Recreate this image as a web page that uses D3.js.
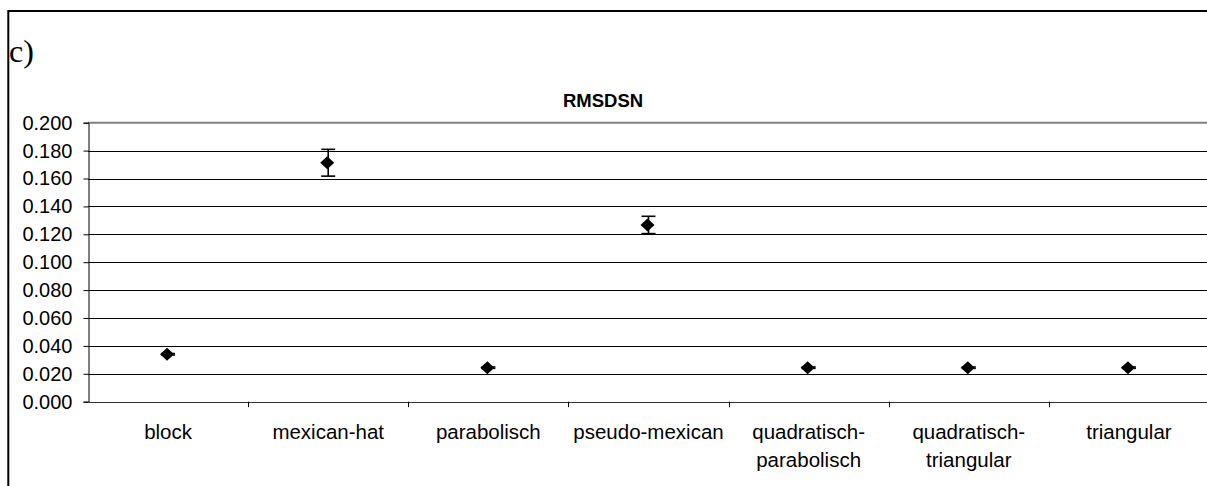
<!DOCTYPE html>
<html>
<head>
<meta charset="utf-8">
<script src="https://cdn.jsdelivr.net/npm/d3@7"></script>
<style>
  html, body { margin: 0; padding: 0; background: #fff; }
  svg { display: block; }
</style>
</head>
<body>
<svg id="chart" width="1207" height="486"></svg>
<script>
// RMSDSN per kernel type, mean with error bars
const categories = ["block", "mexican-hat", "parabolisch", "pseudo-mexican",
                    "quadratisch-parabolisch", "quadratisch-triangular", "triangular"];
const categoryLines = [["block"], ["mexican-hat"], ["parabolisch"], ["pseudo-mexican"],
                       ["quadratisch-", "parabolisch"], ["quadratisch-", "triangular"], ["triangular"]];
const rmsdsn = [0.034, 0.1713, 0.0244, 0.1267, 0.0244, 0.0244, 0.0244];
const rmsdsnErr = [0.0005, 0.0096, 0.0005, 0.0062, 0.0005, 0.0005, 0.0005];
const yTicks = [0, 0.02, 0.04, 0.06, 0.08, 0.1, 0.12, 0.14, 0.16, 0.18, 0.2];

const svg = d3.select("#chart");
const W = 1207, H = 486;
const plot = { left: 88, right: 1209, top: 122.7, bottom: 401.7 };

// outer frame (left and top edges)
svg.append("path")
  .attr("d", `M8.3,${H} V11 H${W}`)
  .attr("fill", "none").attr("stroke", "#000").attr("stroke-width", 2);

// panel letter
svg.append("text")
  .attr("x", 9).attr("y", 62)
  .attr("font-family", "'Liberation Serif', 'DejaVu Serif', serif")
  .attr("font-size", 32)
  .text("c)");

// chart title
svg.append("text")
  .attr("x", 603).attr("y", 106.5)
  .attr("text-anchor", "middle")
  .attr("font-family", "'Liberation Sans', Arial, sans-serif")
  .attr("font-weight", "bold")
  .attr("font-size", 18.5)
  .text("RMSDSN");

const x = d3.scaleBand().domain(categories).range([plot.left, plot.right]).padding(0);
const y = d3.scaleLinear().domain([0, 0.2]).range([plot.bottom, plot.top]);

// horizontal gridlines
svg.append("g").selectAll("line")
  .data(yTicks.slice(1, -1))
  .join("line")
  .attr("x1", plot.left).attr("x2", W)
  .attr("y1", d => Math.round(y(d)) + 0.5).attr("y2", d => Math.round(y(d)) + 0.5)
  .attr("stroke", "#000").attr("stroke-width", 1);

// plot area top edge
svg.append("line")
  .attr("x1", plot.left).attr("x2", W)
  .attr("y1", y(0.2)).attr("y2", y(0.2))
  .attr("stroke", "#808080").attr("stroke-width", 2);

// y axis
const yAxis = d3.axisLeft(y).tickValues(yTicks).tickFormat(d3.format(".3f"))
  .tickSize(5).tickPadding(11);
const gy = svg.append("g").attr("transform", `translate(${plot.left + 0.5},0)`).call(yAxis);
gy.select(".domain").attr("stroke", "#000");
gy.selectAll(".tick line").attr("stroke", "#000");
gy.selectAll(".tick text")
  .attr("font-family", "'Liberation Sans', Arial, sans-serif")
  .attr("font-size", 20).attr("fill", "#000");

// x axis line and category boundary ticks
svg.append("line")
  .attr("x1", plot.left).attr("x2", W)
  .attr("y1", Math.round(y(0)) + 0.5).attr("y2", Math.round(y(0)) + 0.5)
  .attr("stroke", "#333").attr("stroke-width", 1);
svg.append("g").selectAll("line")
  .data(categories.slice(1))
  .join("line")
  .attr("x1", d => Math.round(x(d)) + 0.5).attr("x2", d => Math.round(x(d)) + 0.5)
  .attr("y1", y(0)).attr("y2", y(0) + 5.5)
  .attr("stroke", "#000");

// category labels
const labels = svg.append("g")
  .attr("font-family", "'Liberation Sans', Arial, sans-serif")
  .attr("font-size", 20.5).attr("text-anchor", "middle");
categories.forEach((c, i) => {
  const t = labels.append("text").attr("x", x(c) + x.bandwidth() / 2).attr("y", 438.5);
  categoryLines[i].forEach((ln, j) => {
    t.append("tspan").attr("x", x(c) + x.bandwidth() / 2).attr("dy", j === 0 ? 0 : 28).text(ln);
  });
});

// error bars
const cx = c => x(c) + x.bandwidth() / 2;
const eb = svg.append("g").attr("stroke", "#000").attr("stroke-width", 1.6);
categories.forEach((c, i) => {
  const top = y(rmsdsn[i] + rmsdsnErr[i]), bot = y(rmsdsn[i] - rmsdsnErr[i]);
  eb.append("line").attr("x1", cx(c)).attr("x2", cx(c)).attr("y1", top).attr("y2", bot);
  eb.append("line").attr("x1", cx(c) - 7).attr("x2", cx(c) + 7).attr("y1", top).attr("y2", top);
  eb.append("line").attr("x1", cx(c) - 7).attr("x2", cx(c) + 7).attr("y1", bot).attr("y2", bot);
});

// diamond markers
const r = 7;
svg.append("g").selectAll("path")
  .data(categories)
  .join("path")
  .attr("transform", (c, i) => `translate(${cx(c) - 1},${y(rmsdsn[i])})`)
  .attr("d", `M0,${-r + 0.5} L${r},0 L0,${r - 0.5} L${-r},0 Z`)
  .attr("fill", "#000");
</script>
</body>
</html>
